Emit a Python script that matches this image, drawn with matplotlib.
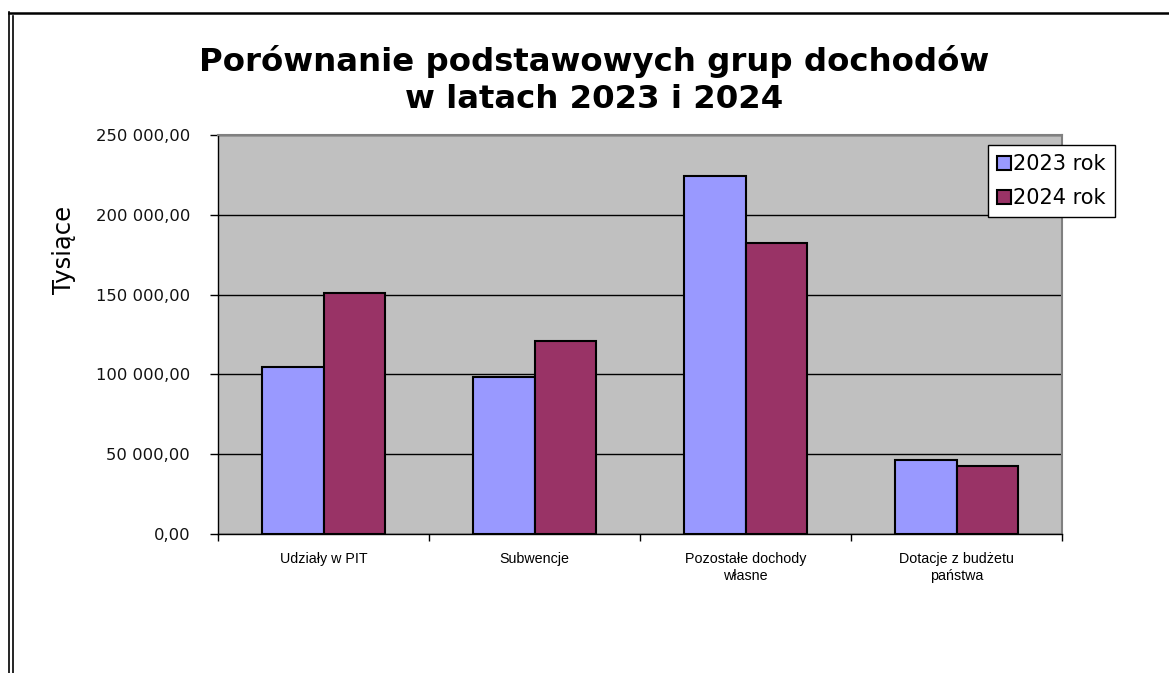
import matplotlib
matplotlib.use("Agg")
import matplotlib.pyplot as plt
import numpy as np
from matplotlib.ticker import FuncFormatter, FixedLocator
from matplotlib.lines import Line2D

kategorie = ["Udziały w PIT", "Subwencje", "Pozostałe dochody\nwłasne", "Dotacje z budżetu\npaństwa"]
lata = ["2023 rok", "2024 rok"]
wartosci_2023 = [104800, 98600, 224300, 46400]
wartosci_2024 = [151000, 121100, 182100, 42600]
kolory = ["#9999FF", "#993366"]


def format_pl(v, pos):
    # 250 000,00
    s = f"{v:,.2f}"
    return s.replace(",", " ").replace(".", ",")


W, H = 1169, 673
fig = plt.figure(figsize=(W / 100, H / 100), dpi=100)
fig.patch.set_facecolor("white")

ax = fig.add_axes([218 / W, 1 - 534 / H, (1062 - 218) / W, (534 - 135) / H])
ax.set_facecolor("#C0C0C0")

x = np.arange(len(kategorie))
szer = 0.29
ax.bar(x - szer / 2, wartosci_2023, szer, color=kolory[0], edgecolor="black", lw=1.5, zorder=3)
ax.bar(x + szer / 2, wartosci_2024, szer, color=kolory[1], edgecolor="black", lw=1.5, zorder=3)

ax.set_xlim(-0.5, len(kategorie) - 0.5)
ax.set_ylim(0, 250000)
ax.set_yticks(np.arange(0, 250001, 50000))
ax.yaxis.set_major_formatter(FuncFormatter(format_pl))
ax.yaxis.grid(True, color="black", lw=1.0, zorder=1)
ax.set_axisbelow(True)

ax.set_xticks(x)
ax.set_xticklabels(kategorie, fontsize=10.3, family="Liberation Sans", linespacing=1.3)
ax.xaxis.set_minor_locator(FixedLocator(np.arange(-0.5, len(kategorie), 1.0)))
ax.tick_params(axis="x", which="major", length=0, pad=13)
ax.tick_params(axis="x", which="minor", length=5, width=1, color="black")
ax.tick_params(axis="y", length=6, width=1, color="black", pad=14, labelsize=11.8)
for t in ax.get_yticklabels():
    t.set_color("#111111")

for s in ["top", "right"]:
    ax.spines[s].set_color("#808080")
    ax.spines[s].set_linewidth(1.5)
for s in ["left", "bottom"]:
    ax.spines[s].set_color("black")
    ax.spines[s].set_linewidth(1.0)

# tytul
fig.text(594 / W, 1 - 62 / H, "Porównanie podstawowych grup dochodów",
         ha="center", va="center", fontsize=23.3, weight="bold")
fig.text(594 / W, 1 - 99 / H, "w latach 2023 i 2024",
         ha="center", va="center", fontsize=23.3, weight="bold")

fig.text(64 / W, 1 - 250 / H, "Tysiące", rotation=90, ha="center", va="center", fontsize=17.5)

# legenda
uchwyty = [Line2D([], [], ls="none", marker="s", markersize=10, markerfacecolor=c,
                  markeredgecolor="black", markeredgewidth=1.5) for c in kolory]
leg = fig.legend(uchwyty, lata, loc="upper left", bbox_to_anchor=(988 / W, 1 - 145 / H),
                 fontsize=15, frameon=True, fancybox=False, framealpha=1, handlelength=0.6,
                 handletextpad=0.15, borderpad=0.45, labelspacing=0.65, borderaxespad=0)
leg.get_frame().set_edgecolor("black")
leg.get_frame().set_linewidth(1.0)

# ramka wykresu
fig.add_artist(Line2D([9 / W, 9 / W], [0, 1 - 12 / H], transform=fig.transFigure, color="black", lw=1.2))
fig.add_artist(Line2D([13 / W, 13 / W], [0, 1 - 16 / H], transform=fig.transFigure, color="black", lw=1.2))
fig.add_artist(Line2D([9 / W, 1], [1 - 13 / H, 1 - 13 / H], transform=fig.transFigure, color="black", lw=1.8))

fig.savefig("out.png", dpi=100)
